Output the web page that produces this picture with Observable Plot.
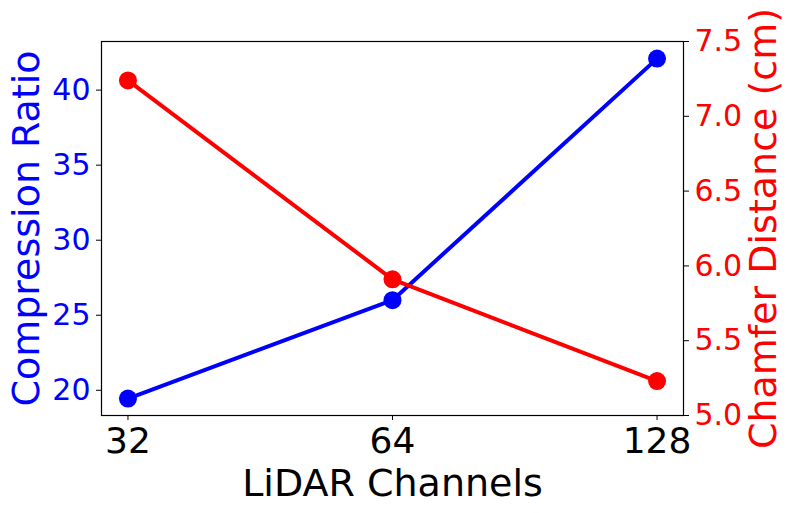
<!DOCTYPE html>
<html>
<head>
<meta charset="utf-8">
<script src="https://cdn.jsdelivr.net/npm/d3@7"></script>
<script src="https://cdn.jsdelivr.net/npm/@observablehq/plot@0.6"></script>
<style>
  html, body { margin: 0; padding: 0; background: #fff; }
</style>
</head>
<body>
<div id="chart"></div>
<script>
// Data
const channels = [32, 64, 128];
const compressionRatio = [19.45, 26.0, 42.1];
const chamferDistance = [7.24, 5.91, 5.23];
const xTicks = [32, 64, 128];
const leftTicks = [20, 25, 30, 35, 40];
const rightTicks = [5.0, 5.5, 6.0, 6.5, 7.0, 7.5];

// Scale domains (matplotlib-like 5% margins)
const leftDomain = [18.32, 43.24];
const rightDomain = [5.0, 7.5];
const toLeft = v => leftDomain[0] + (v - rightDomain[0]) / (rightDomain[1] - rightDomain[0]) * (leftDomain[1] - leftDomain[0]);
const fromLeft = v => rightDomain[0] + (v - leftDomain[0]) / (leftDomain[1] - leftDomain[0]) * (rightDomain[1] - rightDomain[0]);

const blueData = channels.map((c, i) => ({x: c, y: compressionRatio[i]}));
const redData = channels.map((c, i) => ({x: c, y: toLeft(chamferDistance[i])}));

const font = "DejaVu Sans, sans-serif";

const chart = Plot.plot({
  width: 793,
  height: 513,
  marginLeft: 101,
  marginRight: 110,
  marginTop: 41,
  marginBottom: 98,
  style: {fontFamily: font, background: "#fff", overflow: "visible"},
  x: {type: "log", base: 2, domain: [Math.pow(2, 4.9), Math.pow(2, 7.1)], label: null},
  y: {domain: leftDomain, label: null},
  marks: [
    Plot.axisX(xTicks, {tickSize: 5, tickPadding: 7, fontSize: 36, fill: "black", stroke: "black", tickFormat: d => String(d), label: null}),
    Plot.axisY(leftTicks, {anchor: "left", tickSize: 5, tickPadding: 6, fontSize: 30, fill: "blue", stroke: "black", label: null}),
    Plot.axisY(rightTicks.map(toLeft), {anchor: "right", tickSize: 5, tickPadding: 6, fontSize: 30, fill: "red", stroke: "black", tickFormat: d => fromLeft(d).toFixed(1), label: null}),
    Plot.line(blueData, {x: "x", y: "y", stroke: "blue", strokeWidth: 4}),
    Plot.dot(blueData, {x: "x", y: "y", r: 9, fill: "blue", stroke: "none"}),
    Plot.line(redData, {x: "x", y: "y", stroke: "red", strokeWidth: 4}),
    Plot.dot(redData, {x: "x", y: "y", r: 9, fill: "red", stroke: "none"}),
    Plot.frame({stroke: "black", strokeWidth: 1.2}),
    Plot.text(["Compression Ratio"], {frameAnchor: "left", textAnchor: "middle", lineAnchor: "middle", rotate: -90, dx: -75, fill: "blue", fontSize: 38}),
    Plot.text(["Chamfer Distance (cm)"], {frameAnchor: "right", textAnchor: "middle", lineAnchor: "middle", rotate: -90, dx: 80, fill: "red", fontSize: 38}),
    Plot.text(["LiDAR Channels"], {frameAnchor: "bottom", textAnchor: "middle", lineAnchor: "middle", dy: 68, fill: "black", fontSize: 38})
  ]
});
document.getElementById("chart").appendChild(chart);
</script>
</body>
</html>
